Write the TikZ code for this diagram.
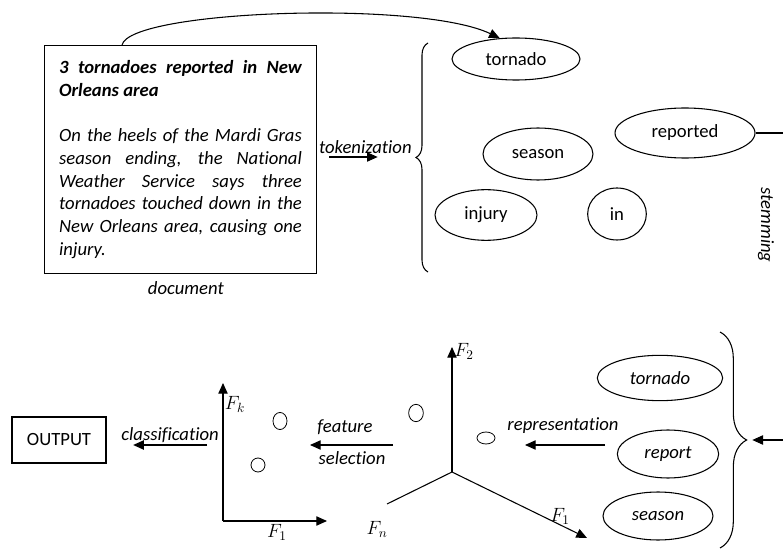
\documentclass[tikz,border=0pt]{standalone}
\usepackage{fontspec}
\setmainfont{Carlito}[Ligatures=NoCommon]
\usepackage{amsmath}
\usetikzlibrary{positioning, arrows.meta, shapes.geometric, decorations.pathreplacing}

\begin{document}
\begin{tikzpicture}[x=0.75pt, y=-0.75pt, line width=0.8pt,
                >={Triangle[length=8pt,width=7pt]},
                font=\fontsize{14}{17}\selectfont,
                word/.style={draw, ellipse, inner sep=0pt},
                dot/.style={draw, ellipse, inner sep=0pt, line width=0.6pt},
                lbl/.style={font=\fontsize{14}{17}\selectfont\itshape, inner sep=1pt}]

    \useasboundingbox (0,0) rectangle (783,549);

    % the document
    \node[draw, anchor=north west, text width=182pt, minimum width=204pt,
          minimum height=171pt, align=justify, inner sep=0pt] (doc) at (44,45)
        {\itshape{\bfseries 3 tornadoes reported in New\linebreak Orleans area}\par
         \vspace{17pt}
         On the heels of the Mardi Gras\linebreak season ending, the National\linebreak
         Weather Service says three\linebreak tornadoes touched down in the\linebreak
         New Orleans area, causing one\linebreak injury.};
    \node[lbl, below=4pt of doc, xshift=4pt] (doclbl) {document};

    % tokens
    \node[word, minimum width=96pt, minimum height=31.5pt] (tw) at (516,59) {tornado};
    \node[word, minimum width=105pt, minimum height=37.5pt] (rw) at (685,133) {reported};
    \node[word, minimum width=82.5pt, minimum height=39pt] (sw) at (538,154) {season};
    \node[word, minimum width=76.5pt, minimum height=38pt] (iw) at (486,215) {injury};
    \node[word, minimum width=44pt, minimum height=39pt] (nw) at (617,214) {in};

    \coordinate (lbtop) at (428,43);
    \coordinate (lbbot) at (428,272);
    \coordinate (lbtip) at (415,157);
    \draw[decorate, decoration={brace, amplitude=9pt}] (lbbot) -- (lbtop);

    \draw[->] ([xshift=9pt]doc.east |- lbtip) -- node[lbl, above, xshift=9pt, yshift=1pt] {tokenization} ([xshift=-28pt]lbtip);
    \draw[->] ([xshift=58.5pt]doc.north west) .. controls (130,10) and (420,0) .. (tw.128);

    % stems
    \node[word, font=\fontsize{14}{17}\selectfont\itshape, minimum width=94pt, minimum height=34pt] (ts) at (660,378) {tornado};
    \node[word, font=\fontsize{14}{17}\selectfont\itshape, minimum width=76pt, minimum height=36pt] (rs) at (668,454) {report};
    \node[word, font=\fontsize{14}{17}\selectfont\itshape, minimum width=82.5pt, minimum height=36pt] (ss) at (658,516) {season};

    \coordinate (rbtop) at (720,332);
    \coordinate (rbbot) at (720,548);
    \coordinate (rbtip) at (747,440);
    \draw[decorate, decoration={brace, amplitude=20pt}] (rbtop) -- (rbbot);

    \coordinate (sm) at (800,133);
    \draw[->] (rw.east) -- (sm) |- ([xshift=4pt]rbtip);
    \node[lbl, rotate=-90] (smlbl) at (766,225) {stemming};

    % vector space
    \coordinate (o3) at (452,472);
    \coordinate (f2) at (452,347);
    \coordinate (f1) at (587,538);
    \coordinate (fn) at (387,504);
    \draw[->] (o3) -- (f2);
    \draw[->] (o3) -- (f1);
    \draw (o3) -- (fn);
    \node (f2lbl) at (464,351) {$F_2$};
    \node (f1lbl) at (560,516) {$F_1$};
    \node (fnlbl) at (377,529) {$F_n$};
    \node[dot, minimum width=11pt, minimum height=13pt] (pa) at (416,413) {};
    \node[dot, minimum width=13.5pt, minimum height=9pt] (pb) at (486,438) {};

    \coordinate (ra) at (605,445);
    \coordinate (rb) at (525,445);
    \draw[->] (ra) -- (rb);
    \node[lbl] (replbl) at (563,426) {representation};

    % reduced space
    \coordinate (o2) at (223,521);
    \coordinate (fk) at (223,383);
    \coordinate (g1) at (327,521);
    \draw[->] (o2) -- (fk);
    \draw[->] (o2) -- (g1);
    \node (fklbl) at (235,404) {$F_k$};
    \node (g1lbl) at (277,532) {$F_1$};
    \node[dot, minimum width=10.5pt, minimum height=12.8pt] (pc) at (280,421) {};
    \node[dot, minimum width=10.5pt, minimum height=10.5pt] (pd) at (258,465) {};

    \coordinate (sa) at (393,445);
    \coordinate (sb) at (310,445);
    \draw[->] (sa) -- (sb);
    \node[lbl] (fslbl) at (345,427) {feature};
    \node[lbl] (sllbl) at (352,458) {selection};

    % output
    \node[draw, minimum width=70.5pt, minimum height=34.5pt] (out) at (59,440) {OUTPUT};
    \coordinate (ca) at (207,445);
    \draw[->] (ca) -- node[lbl, above] {classification} ([xshift=20pt]out.east |- ca);

\end{tikzpicture}
\end{document}
